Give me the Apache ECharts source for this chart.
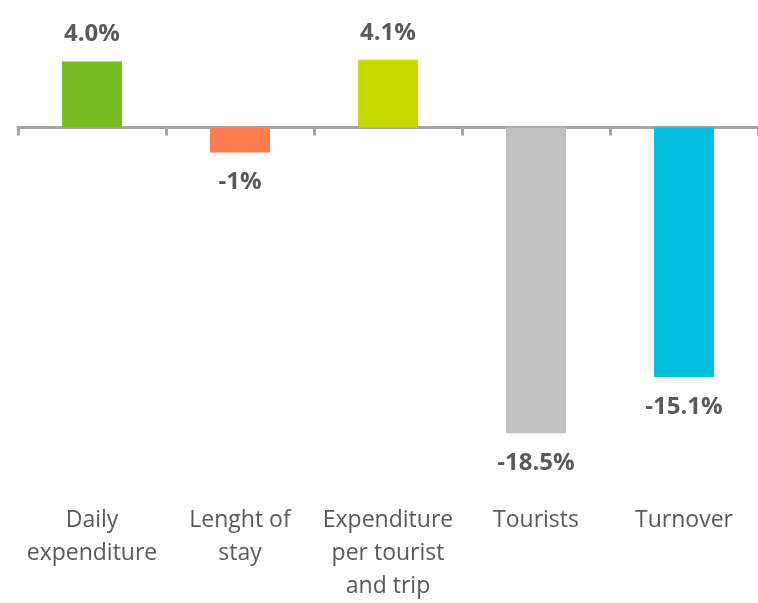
<!DOCTYPE html>
<html>
<head>
<meta charset="utf-8">
<script src="https://cdn.jsdelivr.net/npm/echarts@6/dist/echarts.min.js"></script>
<style>html,body{margin:0;padding:0;background:#fff}#c{width:758px;height:603px}</style>
</head>
<body>
<div id="c"></div>
<script>
const categories = ["Daily\nexpenditure", "Lenght of\nstay", "Expenditure\nper tourist\nand trip", "Tourists", "Turnover"];
const values = [4.0, -1.5, 4.1, -18.5, -15.1];
const valueLabels = ["4.0%", "-1%", "4.1%", "-18.5%", "-15.1%"];
const colors = ["#77BC1F", "#FF7B52", "#C5D800", "#BFBFBF", "#00C0DD"];

const chart = echarts.init(document.getElementById('c'));
chart.setOption({
  animation: false,
  grid: { left: 18, right: 0, top: 45, bottom: 138 },
  xAxis: [
    {
      type: 'category', data: categories,
      axisLine: { onZero: true, lineStyle: { color: '#A6A6A6', width: 3 } },
      axisTick: { show: true, length: 8, lineStyle: { color: '#A6A6A6', width: 3 } },
      axisLabel: { show: false }
    },
    {
      type: 'category', data: categories, position: 'bottom',
      axisLine: { show: false, onZero: false }, axisTick: { show: false },
      axisLabel: { interval: 0, margin: 46, fontFamily: 'Open Sans', fontSize: 23, color: '#595959', lineHeight: 33 }
    }
  ],
  yAxis: { type: 'value', min: -20, max: 5, show: false, splitLine: { show: false } },
  series: [{
    type: 'bar', barWidth: 60,
    data: values.map((v, i) => ({
      value: v,
      itemStyle: { color: colors[i] },
      label: {
        show: true, position: v >= 0 ? 'top' : 'bottom', distance: v >= 0 ? 15 : 18,
        formatter: valueLabels[i], fontFamily: 'Open Sans', fontWeight: 'bold', fontSize: 24, color: '#595959'
      }
    }))
  }]
});
</script>
</body>
</html>
